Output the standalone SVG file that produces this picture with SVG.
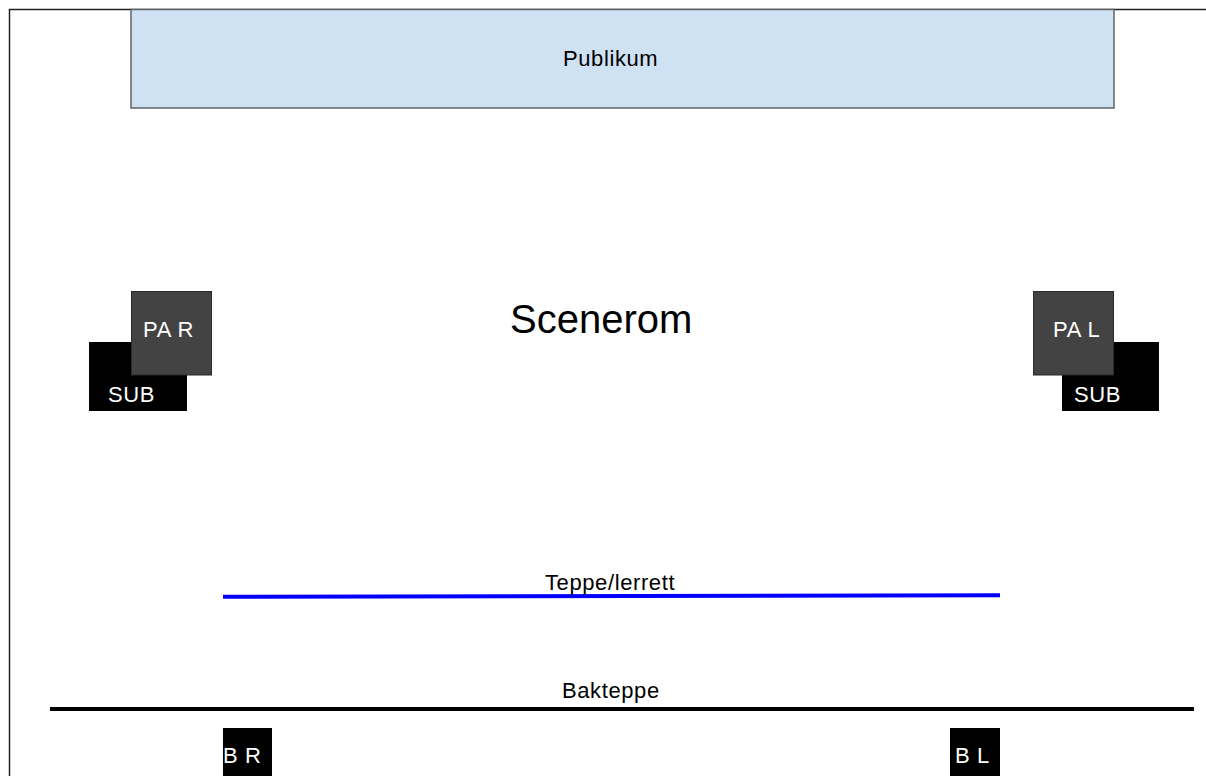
<svg xmlns="http://www.w3.org/2000/svg" width="1206" height="776" viewBox="0 0 1206 776">
<style>
text{font-family:"Liberation Sans",Arial,sans-serif;font-size:22px;letter-spacing:0.6px}
.w{fill:#ffffff}
.k{fill:#000000}
.pa{fill:#434343;stroke:#2b2b2b;stroke-width:1}
.sub{fill:#000000}
</style>
<rect x="0" y="0" width="1206" height="776" fill="#ffffff"/>
<rect x="9.5" y="9.5" width="1300" height="900" fill="none" stroke="#222" stroke-width="1.5"/>
<g id="publikum">
<rect x="131" y="9.5" width="983" height="98.5" fill="#cfe2f3" stroke="#5f6368" stroke-width="1.5"/>
<text x="563" y="66" class="k">Publikum</text>
</g>
<g id="scenerom">
<text x="510" y="333" class="k" style="font-size:40px;letter-spacing:0">Scenerom</text>
</g>
<g id="sub-r">
<rect x="89" y="342" width="98" height="69" class="sub"/>
<text x="108" y="402" class="w">SUB</text>
</g>
<g id="pa-r">
<rect x="131.5" y="291.5" width="80" height="83.5" class="pa"/>
<text x="143" y="337" class="w">PA R</text>
</g>
<g id="sub-l">
<rect x="1062" y="342" width="97" height="69" class="sub"/>
<text x="1074" y="402" class="w">SUB</text>
</g>
<g id="pa-l">
<rect x="1033.5" y="291.5" width="80" height="83.5" class="pa"/>
<text x="1053" y="337" class="w">PA L</text>
</g>
<g id="connectors">
<line x1="223" y1="596.7" x2="1000" y2="595.3" stroke="#0000ff" stroke-width="4"/>
<line x1="50" y1="709" x2="1194" y2="709" stroke="#000" stroke-width="4"/>
</g>
<g id="teppe">
<text x="545" y="590" class="k">Teppe/lerrett</text>
</g>
<g id="bakteppe">
<text x="562" y="698" class="k">Bakteppe</text>
</g>
<g id="br">
<rect x="223" y="728" width="49" height="50" class="sub"/>
<text x="223" y="763" class="w">B R</text>
</g>
<g id="bl">
<rect x="950" y="728" width="50" height="50" class="sub"/>
<text x="955" y="763" class="w">B L</text>
</g>
</svg>
